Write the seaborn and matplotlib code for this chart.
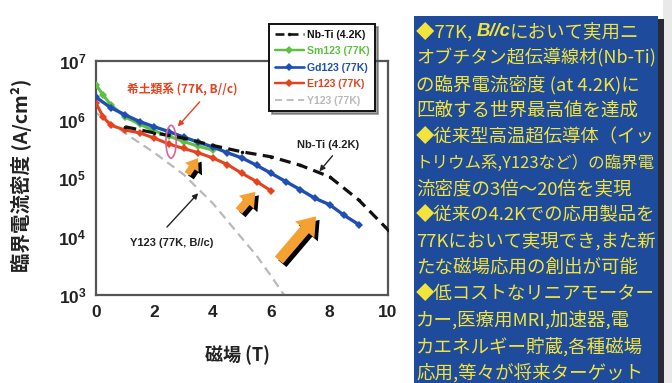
import numpy as np
import pandas as pd
import seaborn as sns
import matplotlib
matplotlib.use("Agg")
import matplotlib.pyplot as plt
import matplotlib.patheffects as pe
from matplotlib.patches import Rectangle, Ellipse, FancyArrowPatch
from matplotlib.lines import Line2D

sns.set_theme(style="white")
plt.rcParams["font.family"] = ["Liberation Sans", "Noto Sans CJK JP", "DejaVu Sans"]
plt.rcParams["mathtext.fontset"] = "custom"
plt.rcParams["mathtext.bf"] = "Liberation Sans:bold"
plt.rcParams["mathtext.rm"] = "Liberation Sans"

# ---- data: critical current density vs. magnetic field ----
nbti_B = [1, 2, 3, 4, 5, 6, 7, 8, 9, 10]
nbti_jc = [7.5e5, 5.9e5, 4.8e5, 3.6e5, 2.8e5, 2.3e5, 1.65e5, 1.05e5, 4.2e4, 1.3e4]

sm_B = [0, 0.25, 0.5, 1, 1.5, 2, 2.5, 3, 3.5, 4]
sm_jc = [3.9e6, 2.6e6, 1.8e6, 1.1e6, 8.3e5, 6.4e5, 5.2e5, 4.2e5, 3.5e5, 3.0e5]

gd_B = [0, 0.5, 1, 1.5, 2, 2.5, 3, 3.5, 4, 4.5, 5, 5.5, 6, 6.5, 7, 7.5, 8, 8.5, 9]
gd_jc = [2.4e6, 1.6e6, 1.2e6, 9.2e5, 7.5e5, 6.2e5, 5.0e5, 4.1e5, 3.4e5, 2.7e5,
         2.2e5, 1.65e5, 1.2e5, 8.7e4, 6.3e4, 4.5e4, 3.5e4, 2.3e4, 1.6e4]

er_B = [0, 0.25, 0.5, 1, 1.5, 2, 2.5, 3, 3.5, 4, 4.5, 5, 5.5, 6]
er_jc = [1.9e6, 1.1e6, 8.0e5, 6.6e5, 5.9e5, 4.8e5, 3.8e5, 3.2e5, 2.7e5, 2.2e5,
         1.7e5, 1.2e5, 8.7e4, 6.0e4]

y_B = [0, 1, 2, 3, 4, 5, 5.5, 6, 6.5]
y_jc = [1.3e6, 5.8e5, 2.7e5, 1.15e5, 3.7e4, 9.3e3, 4.7e3, 2.1e3, 9.0e2]

series_names = ["Nb-Ti (4.2K)", "Sm123 (77K)", "Gd123 (77K)", "Er123 (77K)", "Y123 (77K)"]
series_colors = ["#111111", "#5cc040", "#1f4fb4", "#e5421e", "#b9b9b9"]

x_ticks = [0, 2, 4, 6, 8, 10]
y_exps = [3, 4, 5, 6, 7]

panel_lines = [
    "◆77K, |B//c|において実用ニ",
    "オブチタン超伝導線材(Nb-Ti)",
    "の臨界電流密度 (at 4.2K)に",
    "匹敵する世界最高値を達成",
    "◆従来型高温超伝導体（イッ",
    "トリウム系,Y123など）の臨界電",
    "流密度の3倍～20倍を実現",
    "◆従来の4.2Kでの応用製品を",
    "77Kにおいて実現でき,また新",
    "たな磁場応用の創出が可能",
    "◆低コストなリニアモーター",
    "カー,医療用MRI,加速器,電",
    "カエネルギー貯蔵,各種磁場",
    "応用,等々が将来ターゲット",
]

W, H = 672, 383
fig = plt.figure(figsize=(W / 100, H / 100), dpi=100)
fig.patch.set_facecolor("white")

def fx(px):
    return px / W

def fy(py):
    return 1 - py / H

ax = fig.add_axes([fx(96), fy(295), fx(388) - fx(96), fy(61) - fy(295)])
ax.set_yscale("log")

def frame(B, jc, name):
    return pd.DataFrame({"B": B, "Jc": jc, "series": name})

df = pd.concat([
    frame(nbti_B, nbti_jc, series_names[0]),
    frame(sm_B, sm_jc, series_names[1]),
    frame(gd_B, gd_jc, series_names[2]),
    frame(er_B, er_jc, series_names[3]),
    frame(y_B, y_jc, series_names[4]),
])

styles = {
    series_names[4]: dict(lw=1.6, linestyle=(0, (4, 2.5)), marker=None, ms=0, z=2),
    series_names[1]: dict(lw=2.2, linestyle="-", marker="D", ms=4, z=3),
    series_names[3]: dict(lw=2.2, linestyle="-", marker="D", ms=4, z=4),
    series_names[2]: dict(lw=2.4, linestyle="-", marker="D", ms=4.5, z=5),
    series_names[0]: dict(lw=2.3, linestyle=(0, (3.5, 2)), marker="o", ms=2.5, z=6),
}
color_of = dict(zip(series_names, series_colors))

for name in [series_names[4], series_names[1], series_names[3], series_names[2], series_names[0]]:
    st = styles[name]
    sub = df[df["series"] == name]
    sns.lineplot(data=sub, x="B", y="Jc", ax=ax, color=color_of[name], lw=st["lw"],
                 linestyle=st["linestyle"], marker=st["marker"], markersize=st["ms"],
                 markeredgewidth=0, zorder=st["z"], sort=False, legend=False)

ax.set_xlim(0, 10)
ax.set_ylim(1e3, 1e7)
ax.set_xticks(x_ticks)
ax.set_xticklabels([str(t) for t in x_ticks], fontsize=12.5, fontweight="bold")
ax.set_yticks([10.0 ** e for e in y_exps])
ax.set_yticklabels([r"$\mathbf{10^{%d}}$" % e for e in y_exps], fontsize=12.5)
ax.yaxis.set_minor_locator(matplotlib.ticker.NullLocator())
ax.tick_params(axis="both", direction="in", length=4, width=1.2, color="#444444",
               pad=7, labelcolor="#222222")
for sp in ax.spines.values():
    sp.set_color("#555555")
    sp.set_linewidth(1.6)

ax.set_xlabel("磁場 (T)", fontsize=13, fontweight="bold", color="#222222",
              family=["Noto Sans CJK JP", "Liberation Sans"])
ax.xaxis.set_label_coords(0.483, -0.215)
ax.set_ylabel("臨界電流密度 (A/cm²)", fontsize=14, fontweight="bold", color="#222222",
              family=["Noto Sans CJK JP", "Liberation Sans"])
ax.yaxis.set_label_coords(-0.22, 0.51)

# ---- annotations ----
ax.text(2.95, 3.2e6, "希土類系 (77K, B//c)", color="#e5421e", fontsize=8.5,
        fontweight="bold", ha="center", va="center",
        family=["Noto Sans CJK JP", "Liberation Sans"])
ax.annotate("", xy=(2.8, 7.6e5), xytext=(3.55, 2.0e6),
            arrowprops=dict(arrowstyle="-|>", color="#e5421e", lw=1.0,
                            mutation_scale=8, shrinkA=0, shrinkB=0))
ax.add_patch(Ellipse((0.257, 0.655), 0.035, 0.14, transform=ax.transAxes,
                     fill=False, edgecolor="#e0609a", lw=1.2, zorder=7))

ax.text(7.95, 3.6e5, "Nb-Ti (4.2K)", color="#222222", fontsize=8, fontweight="bold",
        ha="center", va="center")
ax.annotate("", xy=(7.65, 1.3e5), xytext=(8.1, 2.4e5),
            arrowprops=dict(arrowstyle="-|>", color="#222222", lw=1.0,
                            mutation_scale=8, shrinkA=0, shrinkB=0))

ax.text(2.6, 7.8e3, "Y123 (77K, B//c)", color="#222222", fontsize=8, fontweight="bold",
        ha="center", va="center")
ax.annotate("", xy=(3.5, 5.5e4), xytext=(2.43, 1.45e4),
            arrowprops=dict(arrowstyle="-|>", color="#222222", lw=1.0,
                            mutation_scale=8, shrinkA=0, shrinkB=0))

# orange block arrows marking the improvement
block_arrows = [((3.08, 10 ** 5.03), (3.55, 10 ** 5.38), 9),
                ((4.83, 10 ** 4.40), (5.52, 10 ** 4.80), 11),
                ((6.2, 10 ** 3.56), (7.6, 10 ** 4.38), 14)]
for tail, head, scale in block_arrows:
    arr = FancyArrowPatch(tail, head,
                          arrowstyle="simple,head_length=0.9,head_width=1.3,tail_width=0.55",
                          mutation_scale=scale, facecolor="#f5a033", edgecolor="none",
                          zorder=8)
    arr.set_path_effects([pe.SimplePatchShadow(offset=(2.5, -2.5), shadow_rgbFace="black",
                                               alpha=1.0), pe.Normal()])
    ax.add_patch(arr)

# ---- legend ----
handles = []
for name in series_names:
    st = styles[name]
    handles.append(Line2D([], [], color=color_of[name], lw=st["lw"] * 0.8,
                          linestyle=st["linestyle"], marker=st["marker"],
                          markersize=st["ms"], markeredgewidth=0))
leg = fig.legend(handles, series_names, loc="upper left",
                 bbox_to_anchor=(fx(264), fy(19)), fontsize=7.6, handlelength=2.8,
                 handletextpad=0.3, labelspacing=0.62, borderpad=0.5,
                 frameon=True, fancybox=False, shadow=True)
leg.get_frame().set_edgecolor("#111111")
leg.get_frame().set_linewidth(1.4)
for txt, c in zip(leg.get_texts(), series_colors):
    txt.set_color(c)
    txt.set_fontweight("bold")

# ---- text panel on the right ----
fig.patches.append(Rectangle((fx(663), 0), fx(W) - fx(663), 1, transform=fig.transFigure,
                             facecolor="#e9e9e9", edgecolor="none", zorder=0))
fig.patches.append(Rectangle((fx(658), 0), fx(664) - fx(658), fy(19), transform=fig.transFigure,
                             facecolor="#2a2a35", edgecolor="none", zorder=1))
fig.patches.append(Rectangle((fx(414), 0), fx(658) - fx(414), fy(16), transform=fig.transFigure,
                             facecolor="#1e4b9b", edgecolor="none", zorder=2))

yellow = "#f2e43c"
cjk = ["Noto Sans CJK JP", "DejaVu Sans"]
panel_fs = 13.3
max_width = 240.0
renderer = fig.canvas.get_renderer()


def draw_line(line, ypix, fs):
    x = fx(416)
    texts = []
    for j, part in enumerate(line.split("|")):
        if j % 2 == 1:
            t = fig.text(x, fy(ypix), part, color=yellow, fontsize=fs,
                         fontweight="bold", fontstyle="italic",
                         family=["Liberation Sans", "DejaVu Sans"], va="center", zorder=3)
        else:
            t = fig.text(x, fy(ypix), part, color=yellow, fontsize=fs,
                         family=cjk, va="center", zorder=3)
        bb = t.get_window_extent(renderer=renderer)
        x += bb.width / W
        texts.append(t)
    return texts, (x - fx(416)) * W


for i, line in enumerate(panel_lines):
    ypix = 32 + 26.2 * i
    texts, width = draw_line(line, ypix, panel_fs)
    if width > max_width:
        for t in texts:
            t.remove()
        draw_line(line, ypix, panel_fs * max_width / width)

fig.savefig("out.png", dpi=100)
